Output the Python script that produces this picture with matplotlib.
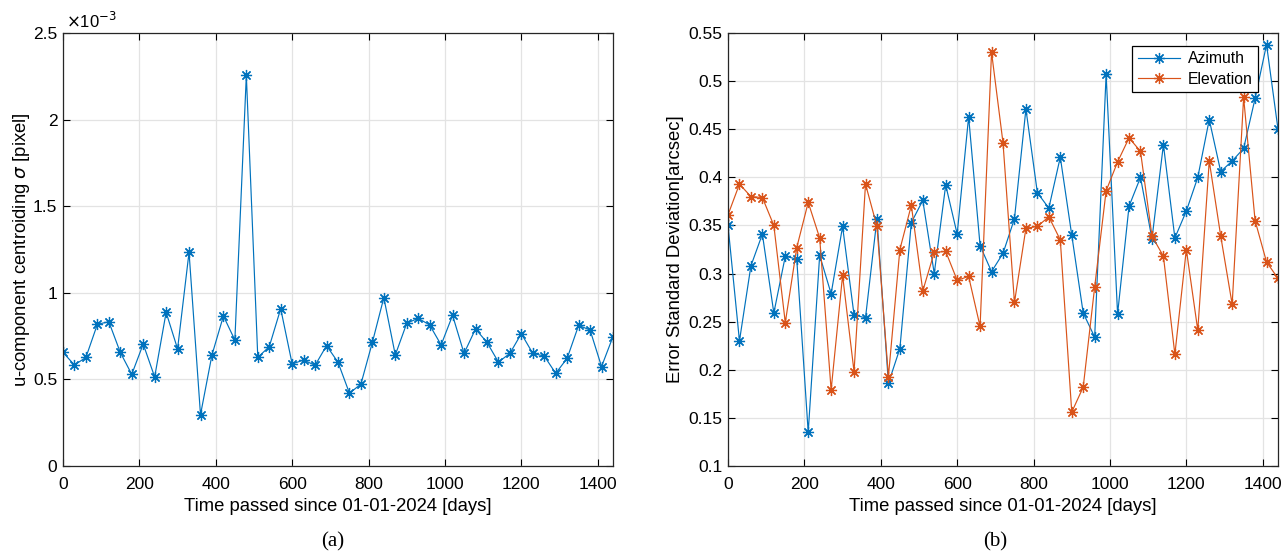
import numpy as np
import matplotlib
matplotlib.use('Agg')
from matplotlib import pyplot as plt
from matplotlib.ticker import FormatStrFormatter

plt.rcParams['font.family'] = ['Liberation Sans', 'DejaVu Sans']
plt.rcParams['mathtext.fontset'] = 'dejavusans'

# time axis, one sample every 30 days
days = list(range(0, 1441, 30))

# (a) u-component centroiding sigma, units of 1e-3 pixel
u_sigma = [0.656, 0.583, 0.627, 0.818, 0.833, 0.656, 0.529, 0.704, 0.514, 0.887,
           0.676, 1.234, 0.296, 0.641, 0.866, 0.727, 2.256, 0.627, 0.689, 0.908,
           0.589, 0.612, 0.581, 0.695, 0.599, 0.420, 0.473, 0.714, 0.972, 0.641,
           0.824, 0.853, 0.814, 0.699, 0.870, 0.650, 0.791, 0.714, 0.600, 0.650,
           0.764, 0.650, 0.635, 0.535, 0.622, 0.812, 0.785, 0.574, 0.747]

# (b) error standard deviation [arcsec]
azimuth = [0.350, 0.230, 0.308, 0.341, 0.259, 0.318, 0.315, 0.135, 0.319, 0.279,
           0.349, 0.257, 0.254, 0.357, 0.186, 0.222, 0.353, 0.376, 0.300, 0.392,
           0.341, 0.463, 0.329, 0.302, 0.321, 0.357, 0.471, 0.384, 0.368, 0.421,
           0.340, 0.259, 0.234, 0.507, 0.258, 0.370, 0.400, 0.336, 0.434, 0.337,
           0.365, 0.400, 0.460, 0.406, 0.417, 0.430, 0.482, 0.538, 0.450]
elevation = [0.361, 0.393, 0.380, 0.379, 0.350, 0.249, 0.327, 0.374, 0.337, 0.179,
             0.298, 0.198, 0.393, 0.349, 0.193, 0.325, 0.371, 0.282, 0.322, 0.323,
             0.293, 0.297, 0.245, 0.530, 0.436, 0.270, 0.347, 0.349, 0.359, 0.335,
             0.156, 0.182, 0.286, 0.386, 0.416, 0.441, 0.427, 0.339, 0.318, 0.216,
             0.325, 0.241, 0.417, 0.339, 0.268, 0.483, 0.355, 0.312, 0.295]

blue = '#0072BD'
orange = '#D95319'
mk = dict(marker=(8, 2, 0), markersize=8, linewidth=0.85, markeredgewidth=0.9)

fig = plt.figure(figsize=(12.88, 5.52), dpi=100)
ax1 = fig.add_axes([63 / 1288, 86 / 552, 550 / 1288, 433 / 552])
ax2 = fig.add_axes([728 / 1288, 86 / 552, 550 / 1288, 433 / 552])


def style(ax):
    ax.set_xlim(0, 1440)
    ax.set_xticks(np.arange(0, 1401, 200))
    ax.grid(True, color='#e3e3e3', linewidth=0.9)
    ax.set_axisbelow(True)
    ax.tick_params(direction='in', top=True, right=True, length=5,
                   labelsize=12.5, colors='black', pad=4)
    ax.tick_params(axis='x', pad=8)
    for s in ax.spines.values():
        s.set_linewidth(0.9)
        s.set_color('#262626')
    ax.yaxis.set_major_formatter(FormatStrFormatter('%g'))
    ax.set_xlabel('Time passed since 01-01-2024 [days]', fontsize=13.3, labelpad=4)


ax1.plot(days, u_sigma, color=blue, **mk)
style(ax1)
ax1.set_ylim(0, 2.5)
ax1.set_yticks(np.arange(0, 2.51, 0.5))
ax1.set_ylabel(r'u-component centroiding $\sigma$ [pixel]', fontsize=13.3, labelpad=1)
ax1.text(0.005, 1.004, r'$\times$10$^{-3}$', transform=ax1.transAxes,
         fontsize=12, ha='left', va='bottom')

ax2.plot(days, azimuth, color=blue, label='Azimuth', **mk)
ax2.plot(days, elevation, color=orange, label='Elevation', **mk)
style(ax2)
ax2.set_ylim(0.1, 0.55)
ax2.set_yticks(np.arange(0.1, 0.551, 0.05))
ax2.set_ylabel('Error Standard Deviation[arcsec]', fontsize=13.3, labelpad=3)
leg = ax2.legend(loc='upper right', bbox_to_anchor=(0.964, 0.97), fontsize=11.3,
                 fancybox=False, framealpha=1, edgecolor='black',
                 borderpad=0.35, handlelength=2.7, handletextpad=0.5,
                 labelspacing=0.35, borderaxespad=0)
leg.get_frame().set_linewidth(0.9)

fig.text(333 / 1288, 1 - 542 / 552, '(a)', family='Liberation Serif',
         fontsize=15, ha='center', va='center')
fig.text(995 / 1288, 1 - 542 / 552, '(b)', family='Liberation Serif',
         fontsize=15, ha='center', va='center')

fig.savefig('out.png', dpi=100)
